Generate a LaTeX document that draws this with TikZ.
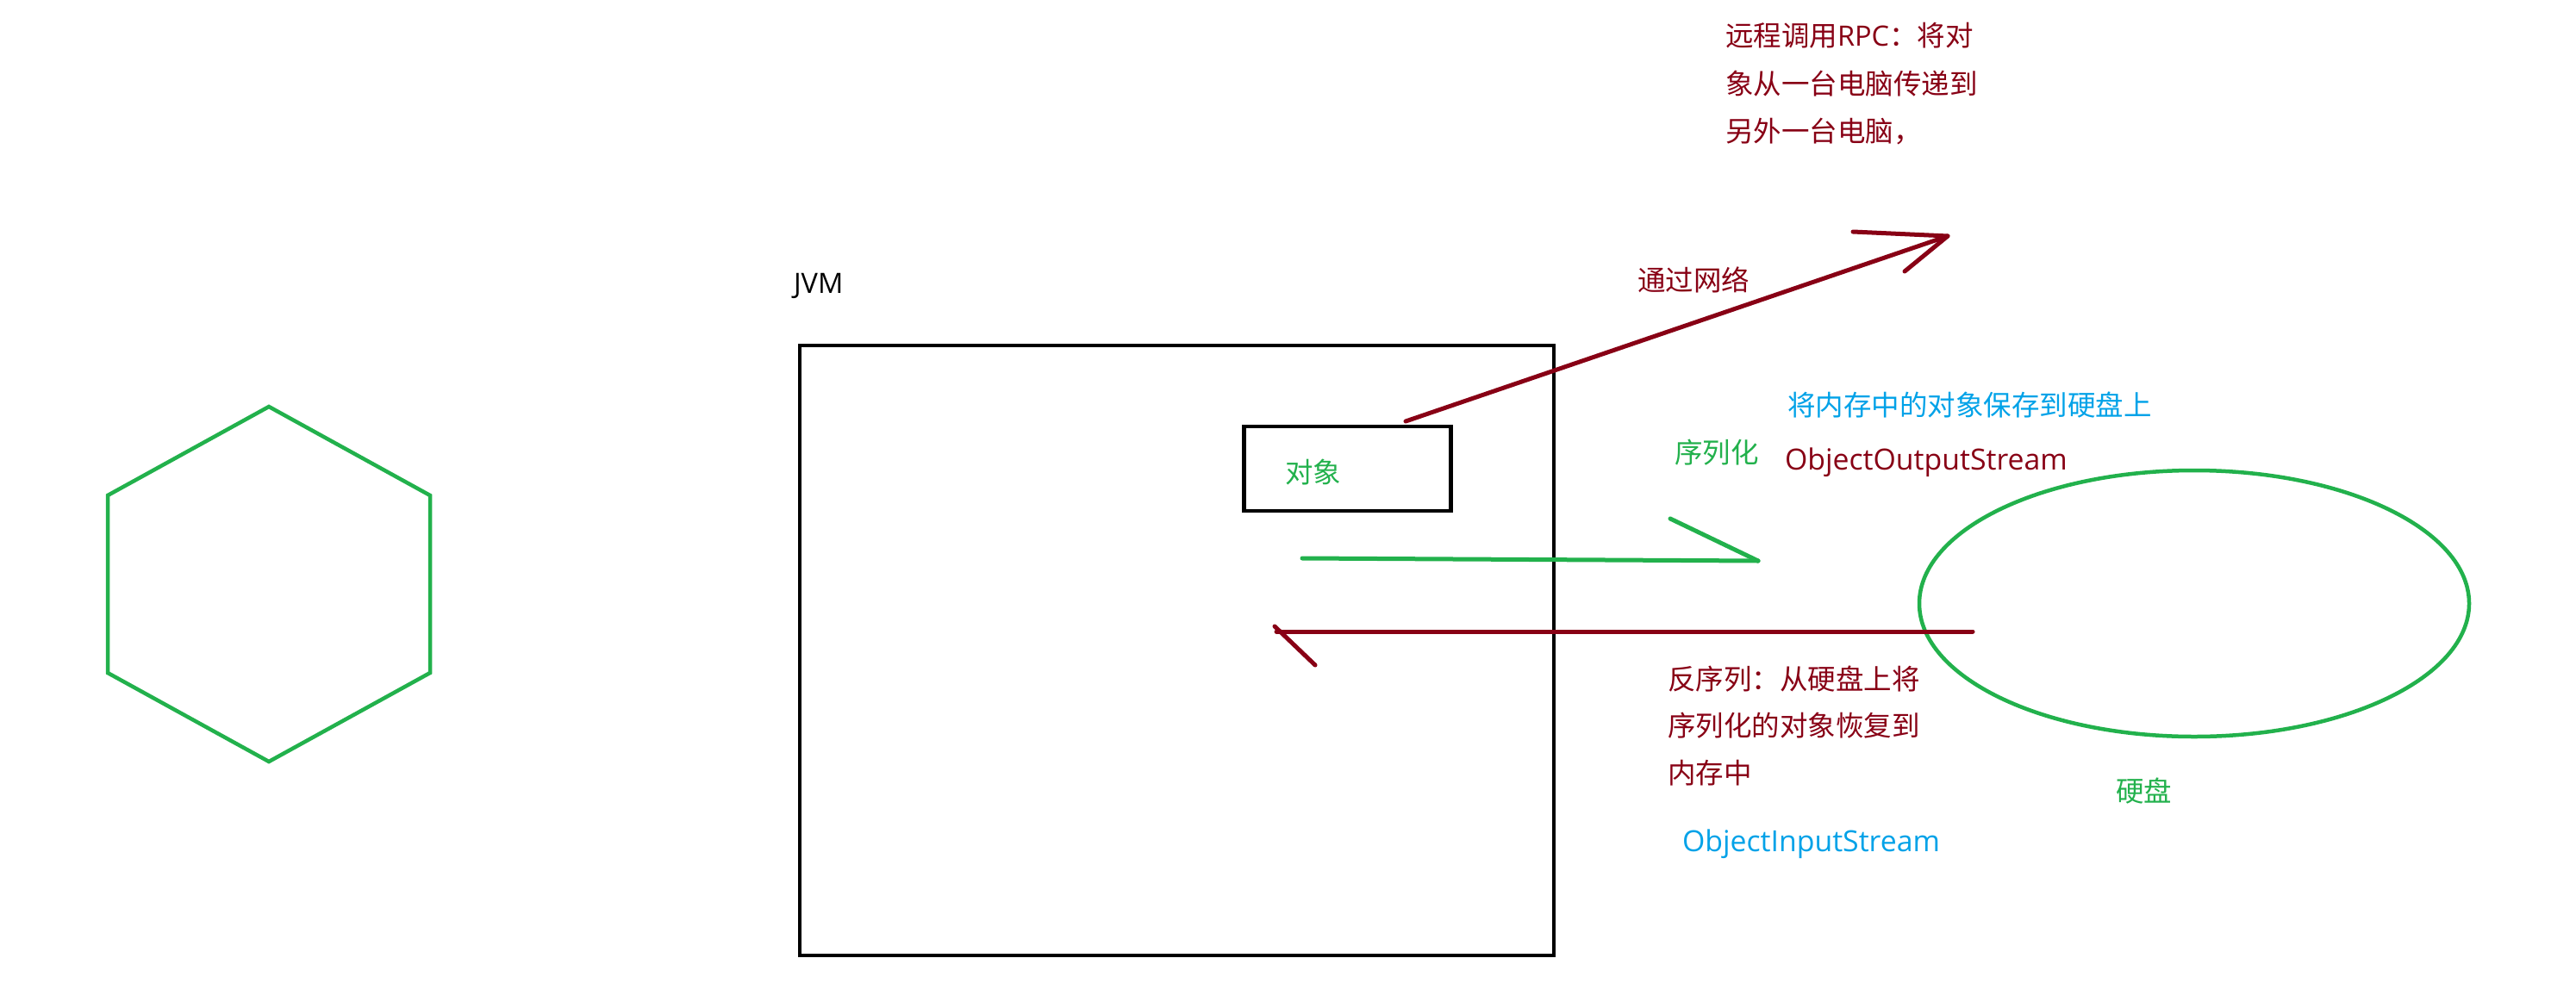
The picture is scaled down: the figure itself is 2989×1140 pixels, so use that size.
\documentclass[tikz,border=0pt]{standalone}
\usepackage{fontspec}
\setmainfont{Noto Sans CJK SC}
\newfontfamily\cjk{Noto Sans CJK SC}
\newfontfamily\lat{Open Sans}
\usetikzlibrary{shapes.geometric}
\definecolor{dred}{RGB}{136,0,21}
\definecolor{pgreen}{RGB}{34,177,76}
\definecolor{pblue}{RGB}{0,162,232}
\tikzset{
  txt/.style={inner sep=0pt, outer sep=0pt, anchor=base west, font=\cjk\fontsize{32.5}{55}\selectfont},
  lattxt/.style={inner sep=0pt, outer sep=0pt, anchor=base west, font=\lat\fontsize{32.5}{55}\selectfont},
  widelat/.style={inner sep=0pt, outer sep=0pt, anchor=base west, font=\lat\fontsize{33.8}{55}\selectfont},
  box/.style={draw=black, line width=4.5pt, inner sep=0pt, outer sep=0pt, rectangle},
  redline/.style={draw=dred, line width=5pt, line cap=round, line join=round},
  greenline/.style={draw=pgreen, line width=5pt, line cap=round, line join=round},
  shapeline/.style={draw=pgreen, line width=4.5pt, line join=miter},
}
\begin{document}
\begin{tikzpicture}[x=1pt,y=-1pt]
\useasboundingbox[fill=white] (0,0) rectangle (2989,1140);

% hexagon
\draw[shapeline] (312,472) -- (499,575) -- (499,781) -- (312,884) -- (125,781) -- (125,575) -- cycle;

% JVM box and label
\node[box, minimum width=875pt, minimum height=708pt] (jvm) at (1365.5,755) {};
\node[lattxt, text=black] (jvmlabel) at (921,340) {JVM};

% object box
\node[box, minimum width=240pt, minimum height=98pt] (obj) at (1563.5,544) {};
\node[txt, text=pgreen] (objlabel) at (1491,560) {对象};

% disk ellipse
\node[ellipse, draw=pgreen, line width=4.5pt, minimum width=638pt, minimum height=309pt, inner sep=0pt] (disk) at (2546,700.5) {};
\node[txt, text=pgreen] (disklabel) at (2455,930) {硬盘};

% network arrow
\coordinate (netS) at (1631,489);
\coordinate (netT) at (2260,274);
\coordinate (netB1) at (2150,269);
\coordinate (netB2) at (2210,315);
\draw[redline] (netS) -- (netT);
\draw[redline] (netB1) -- (netT) -- (netB2);
\node[txt, text=dred] (netlabel) at (1900,337) {通过网络};

% RPC text
\node[txt, text=dred] (rpc1) at (2002,54) {远程调用{\lat RPC}：将对};
\node[txt, text=dred] (rpc2) at (2002,109) {象从一台电脑传递到};
\node[txt, text=dred] (rpc3) at (2002,164) {另外一台电脑，};

% serialization arrow
\coordinate (serS) at (1511,648);
\coordinate (serT) at (2040,651);
\coordinate (serB) at (1938,602);
\draw[greenline] (serS) -- (serT);
\draw[greenline] (serB) -- (serT);
\node[txt, text=pblue] (savetext) at (2074,482) {将内存中的对象保存到硬盘上};
\node[txt, text=pgreen] (sertext) at (1943,537) {序列化};
\node[widelat, text=dred] (oos) at (2071,545) {ObjectOutputStream};

% deserialization arrow
\coordinate (desS) at (2289,733);
\coordinate (desT) at (1481,733);
\coordinate (desB0) at (1479,727);
\coordinate (desB) at (1526,772);
\draw[redline] (desS) -- (desT);
\draw[redline] (desB0) -- (desB);
\node[txt, text=dred] (des1) at (1935,800) {反序列：从硬盘上将};
\node[txt, text=dred] (des2) at (1935,854) {序列化的对象恢复到};
\node[txt, text=dred] (des3) at (1935,909) {内存中};
\node[widelat, text=pblue] (ois) at (1952,988) {ObjectInputStream};
\end{tikzpicture}
\end{document}
